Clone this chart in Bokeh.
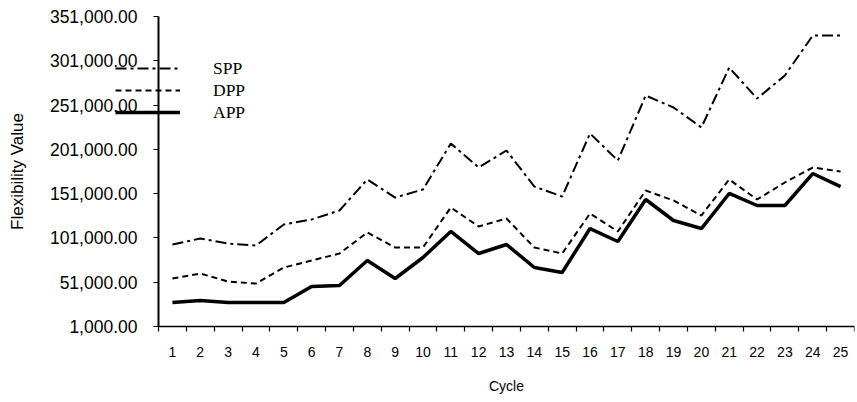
from bokeh.plotting import figure
from bokeh.models import (Range1d, FixedTicker, NumeralTickFormatter, Legend, LegendItem)
from bokeh.embed import file_html
from bokeh.resources import INLINE

cycles = list(range(1, 26))
spp = [93600, 100300, 94700, 92400, 116200, 121800, 132000, 167000, 146600, 155700,
       207600, 180500, 199700, 159000, 147800, 218900, 188400, 261800, 248300, 225700,
       293400, 258400, 284400, 329500, 329500]
dpp = [55200, 60800, 51800, 49500, 67600, 75500, 83400, 107100, 90200, 90200,
       135400, 113900, 122900, 90200, 83400, 128600, 108300, 154500, 143300, 126300,
       167000, 144400, 163600, 180500, 176000]
app = [28100, 30400, 28100, 28100, 28100, 46200, 47300, 75500, 55200, 78900,
       108300, 83400, 93600, 67600, 62000, 111600, 97000, 144400, 120700, 111600,
       151200, 137600, 137600, 173700, 159000]
y_ticks = [1000, 51000, 101000, 151000, 201000, 251000, 301000, 351000]
boundaries = [c - 0.5 for c in cycles] + [25.5]
y_lo, y_hi = 1000, 351000
x_edge = 0.5

# frame covers nearly the whole canvas; axes are pinned inside it so that
# the plotting area runs px 158..854 horizontally and px 16..326 vertically
W, H = 857, 402
fl, fr, ft, fb = 3, 854, 3, 399
ax_x, ax_top, ax_bot = 158, 16, 326
band = (fr - ax_x) / 25.0
x_start = x_edge - (ax_x - fl) / band
ky = (ax_bot - ax_top) / float(y_hi - y_lo)
y_end = y_hi + (ax_top - ft) / ky
y_start = y_lo - (fb - ax_bot) / ky

p = figure(width=W, height=H, output_backend="svg", toolbar_location=None,
           x_range=Range1d(x_start, 25.5), y_range=Range1d(y_start, y_end),
           min_border_left=fl, min_border_right=W - fr,
           min_border_top=ft, min_border_bottom=H - fb)
p.outline_line_color = None
p.xgrid.visible = False
p.ygrid.visible = False
p.background_fill_color = None
p.border_fill_color = "white"

r_spp = p.line(cycles, spp, line_color="black", line_width=2, line_dash="11 4 3 4")
r_dpp = p.line(cycles, dpp, line_color="black", line_width=2, line_dash="6 4")
r_app = p.line(cycles, app, line_color="black", line_width=3.5)

p.yaxis.fixed_location = x_edge
p.yaxis.bounds = (y_lo, y_hi)
p.yaxis.ticker = FixedTicker(ticks=y_ticks)
p.yaxis.formatter = NumeralTickFormatter(format="0,0.00")
p.yaxis.major_tick_out = 5
p.yaxis.major_tick_in = 0
p.yaxis.minor_tick_line_color = None
p.yaxis.major_label_standoff = 16
p.yaxis.major_label_text_font = "Liberation Sans"
p.yaxis.major_label_text_font_size = "17.5px"
p.yaxis.major_label_text_color = "black"
p.yaxis.axis_label = "Flexibility Value"
p.yaxis.axis_label_text_font = "Liberation Sans"
p.yaxis.axis_label_text_font_size = "17px"
p.yaxis.axis_label_text_font_style = "normal"
p.yaxis.axis_label_text_color = "black"
p.yaxis.axis_label_standoff = 20

p.xaxis.fixed_location = y_lo
p.xaxis.bounds = (x_edge, 25.5)
p.xaxis.ticker = FixedTicker(ticks=cycles, minor_ticks=boundaries)
p.xaxis.major_tick_out = 0
p.xaxis.major_tick_in = 0
p.xaxis.minor_tick_out = 5
p.xaxis.minor_tick_in = 0
p.xaxis.minor_tick_line_color = "black"
p.xaxis.major_label_standoff = 15
p.xaxis.major_label_text_font = "Liberation Sans"
p.xaxis.major_label_text_font_size = "14px"
p.xaxis.major_label_text_color = "black"
p.xaxis.axis_label = "Cycle"
p.xaxis.axis_label_text_font = "Liberation Sans"
p.xaxis.axis_label_text_font_size = "14px"
p.xaxis.axis_label_text_font_style = "normal"
p.xaxis.axis_label_text_color = "black"
p.xaxis.axis_label_standoff = 18

for ax in (p.xaxis, p.yaxis):
    ax.axis_line_color = "black"
    ax.major_tick_line_color = "black"
    ax.major_tick_line_width = 1.2
p.xaxis.axis_line_width = 1.5
p.yaxis.axis_line_width = 2
p.xaxis.minor_tick_line_width = 1.2

legend = Legend(items=[LegendItem(label="SPP", renderers=[r_spp]),
                       LegendItem(label="DPP", renderers=[r_dpp]),
                       LegendItem(label="APP", renderers=[r_app])],
                location=(115 - fl, fb - 123), orientation="vertical",
                glyph_width=65, glyph_height=22, label_height=22, label_standoff=33,
                spacing=0, padding=0, margin=0,
                label_text_font="Liberation Serif", label_text_font_size="17.5px",
                label_text_color="black",
                border_line_alpha=0, background_fill_alpha=0)
p.add_layout(legend)

open("out.html", "w").write(file_html(p, INLINE))
